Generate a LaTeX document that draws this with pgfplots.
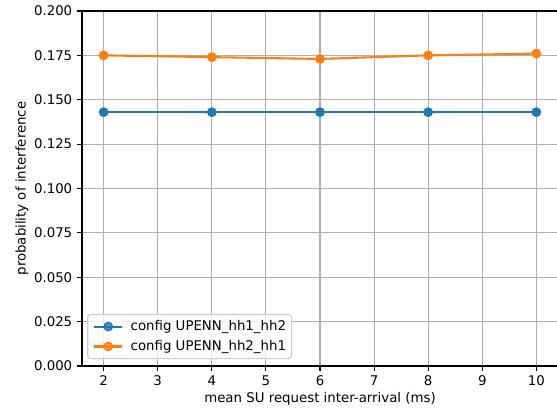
\documentclass[border=0pt]{standalone}
\usepackage{pgfplots}
\pgfplotsset{compat=1.18}
\usepackage{fontspec}
\setmainfont{DejaVu Sans}
\definecolor{mblue}{HTML}{1F77B4}
\definecolor{morange}{HTML}{FF7F0E}
\definecolor{mgrid}{HTML}{B0B0B0}
\begin{document}
\begin{tikzpicture}
\begin{axis}[
  scale only axis,
  width=342.72pt, height=255.6pt,
  xmin=1.6, xmax=10.4,
  ymin=0, ymax=0.2,
  xtick={2,3,4,5,6,7,8,9,10},
  ytick={0,0.025,0.05,0.075,0.1,0.125,0.15,0.175,0.2},
  scaled y ticks=false,
  yticklabel style={/pgf/number format/.cd, fixed, fixed zerofill, precision=3, assume math mode=true},
  xticklabel style={/pgf/number format/assume math mode=true},
  tick align=outside,
  tick pos=left,
  major tick length=3.5pt,
  tick style={line width=0.8pt, black},
  axis line style={line width=0.8pt, black},
  grid=major,
  major grid style={line width=0.8pt, mgrid},
  tick label style={font=\fontsize{9.6}{11.5}\selectfont},
  label style={font=\fontsize{9.6}{11.5}\selectfont},
  xlabel={mean SU request inter-arrival (ms)},
  ylabel={probability of interference},
  xlabel style={at={(axis description cs:0.5,-0.1034)}, anchor=base},
  ylabel style={at={(axis description cs:-0.126,0.5)}, anchor=center},
  legend style={at={(axis description cs:0.011,0.0194)}, anchor=south west, draw=black!20, line width=0.8pt, rounded corners=2pt, fill=white, fill opacity=0.8, text opacity=1, font=\fontsize{9.6}{11.5}\selectfont, row sep=5pt, column sep=5.4pt, inner xsep=4pt, inner ysep=4pt, nodes={inner sep=0pt, text height=7.3pt, text depth=2.05pt}},
  legend cell align=left,
  legend image code/.code={\draw[mark repeat=2,mark phase=2] plot coordinates {(0pt,0pt) (10pt,0pt) (20pt,0pt)};},
]
\addplot[color=mblue, line width=1.5pt, mark=*, mark size=3pt, mark options={solid, fill=mblue, draw=mblue, line width=1pt}] coordinates {
(2,0.143) (4,0.143) (6,0.143) (8,0.143) (10,0.143)};
\addlegendentry{config UPENN\_hh1\_hh2}
\addplot[color=morange, line width=1.5pt, mark=*, mark size=3pt, mark options={solid, fill=morange, draw=morange, line width=1pt}] coordinates {
(2,0.175) (4,0.174) (6,0.173) (8,0.175) (10,0.176)};
\addlegendentry{config UPENN\_hh2\_hh1}
\end{axis}
\pgfresetboundingbox
\useasboundingbox (-59.04pt,-30.24pt) rectangle (342pt,263.52pt);
\end{tikzpicture}
\end{document}
